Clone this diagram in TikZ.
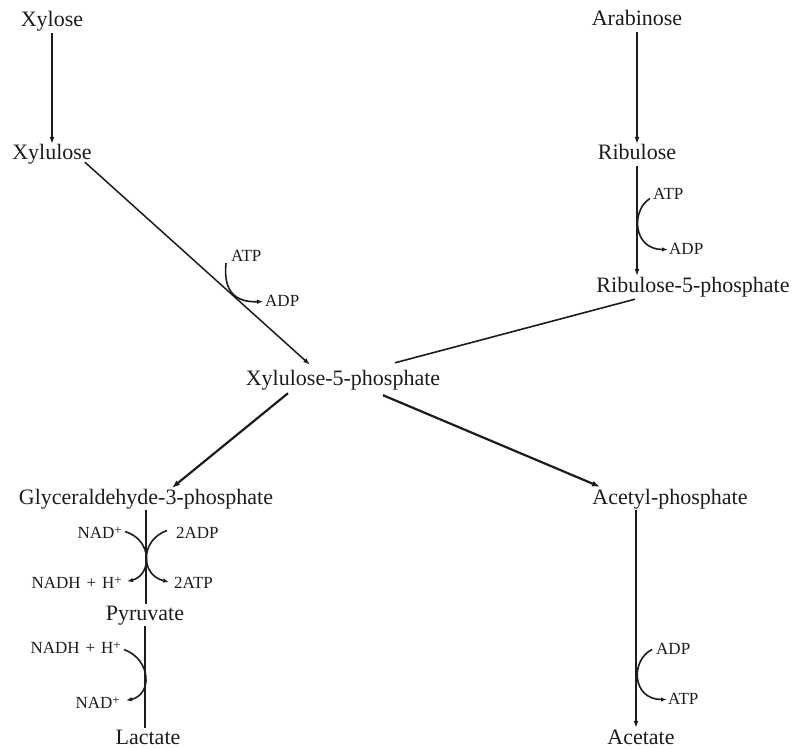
\documentclass[tikz,border=0pt]{standalone}
\usepackage{fontspec}
\setmainfont{Liberation Serif}
\usetikzlibrary{arrows.meta,calc}
\definecolor{ink}{HTML}{1C1C1C}
\newcommand{\supplus}{\raisebox{0.5ex}{\fontsize{13}{13}\selectfont +}}
\begin{document}
\begin{tikzpicture}[x=1pt,y=-1pt,
  mainlbl/.style={font=\fontsize{22}{26}\selectfont, inner sep=1pt, text height=15pt, text depth=5pt, anchor=base, text=ink},
  smalllbl/.style={font=\fontsize{17}{20}\selectfont, inner sep=1pt, text height=12pt, text depth=3pt, text=ink},
  conn/.style={draw=ink, line width=1.3pt},
  arr/.style={conn, -{Latex[length=7pt,width=5pt]}},
  thickarr/.style={draw=ink, line width=2.2pt, -{Latex[length=8pt,width=6pt]}},
  side/.style={draw=ink, line width=1.6pt, -{Latex[length=6pt,width=4.5pt]}},
]
\useasboundingbox (0,0) rectangle (798,749);

% main compounds
\node[mainlbl] (xylose)   at (52,27)  {Xylose};
\node[mainlbl] (xylulose) at (52,160) {Xylulose};
\node[mainlbl] (arab)     at (637,26) {Arabinose};
\node[mainlbl] (ribu)     at (637,160) {Ribulose};
\node[mainlbl] (r5p)      at (693,292) {Ribulose-5-phosphate};
\node[mainlbl] (x5p)      at (343,385) {Xylulose-5-phosphate};
\node[mainlbl] (g3p)      at (146,504) {Glyceraldehyde-3-phosphate};
\node[mainlbl] (acp)      at (670,504) {Acetyl-phosphate};
\node[mainlbl] (pyr)      at (145,620) {Pyruvate};
\node[mainlbl] (lac)      at (148,744) {Lactate};
\node[mainlbl] (acet)     at (641,744) {Acetate};

% cofactors
\node[smalllbl, anchor=base west] (atp1) at (230,261) {ATP};
\node[smalllbl, anchor=base west] (adp1) at (264,306) {ADP};
\node[smalllbl, anchor=base west] (atp2) at (652,199) {ATP};
\node[smalllbl, anchor=base west] (adp2) at (668,254) {ADP};
\node[smalllbl, anchor=base east] (nad1) at (123,538) {NAD\supplus};
\node[smalllbl, anchor=base west] (adp3) at (175,538) {2ADP};
\node[smalllbl, anchor=base east] (nadh1) at (123,588) {NADH\hspace{0.35em}+\hspace{0.35em}H\supplus};
\node[smalllbl, anchor=base west] (atp3) at (173,588) {2ATP};
\node[smalllbl, anchor=base east] (nadh2) at (122,653) {NADH\hspace{0.35em}+\hspace{0.35em}H\supplus};
\node[smalllbl, anchor=base east] (nad2) at (121,708) {NAD\supplus};
\node[smalllbl, anchor=base west] (adp4) at (655,654) {ADP};
\node[smalllbl, anchor=base west] (atp4) at (667,704) {ATP};

% main connectors
\draw[arr] (xylose.south) -- (xylulose.north);
\draw[arr] (arab.south) -- (ribu.north);
\draw[arr] (ribu.south) -- (ribu.south |- r5p.north);
\draw[conn, line width=1.5pt, -{Latex[length=7pt,width=5pt]}] ($(xylulose.south east)+(-8,-4)$) -- ($(x5p.north)+(-33,-4)$);
\draw[conn, line width=1.6pt] ($(r5p.south)+(-58,1)$) -- ($(x5p.north)+(52,-6)$);
\draw[thickarr] ($(x5p.south)+(-55,2)$) -- ($(g3p.north)+(26,0)$);
\draw[thickarr] ($(x5p.south)+(40,4)$) -- ($(acp.north)+(-70,-1)$);
\draw[conn] (g3p.south) -- (g3p.south |- pyr.north);
\draw[conn] (pyr.south) -- (pyr.south |- lac.north);
\coordinate (acpfoot) at ($(acp.south)+(-34,0)$);
\draw[arr] (acpfoot) -- (acpfoot |- acet.north);

% side reactions
\draw[side] ($(atp1.south west)+(-4,-2)$) .. controls +(-3,29) and +(-27,1) .. ($(adp1.west)+(-1,0)$);
\draw[side] ($(atp2.west)+(-2,4)$) .. controls +(-19,11.5) and +(-35.5,0) .. (adp2.west);
\draw[side] ($(adp4.west)+(-3,0)$) .. controls +(-21.5,10.5) and +(-35.5,0) .. (atp4.west);
\draw[side] ($(nad1.east)+(2,-2)$) .. controls +(28,8.5) and +(25,-6.5) .. ($(nadh1.east)+(4,-2)$);
\draw[side] ($(adp3.west)+(-8,-3)$) .. controls +(-27,9.5) and +(-29,-7) .. ($(atp3.west)+(-4,-1.5)$);
\draw[side] ($(nadh2.east)+(2,1)$) .. controls +(28,10.5) and +(26,-5.5) .. ($(nad2.east)+(5,-3)$);
\end{tikzpicture}
\end{document}
